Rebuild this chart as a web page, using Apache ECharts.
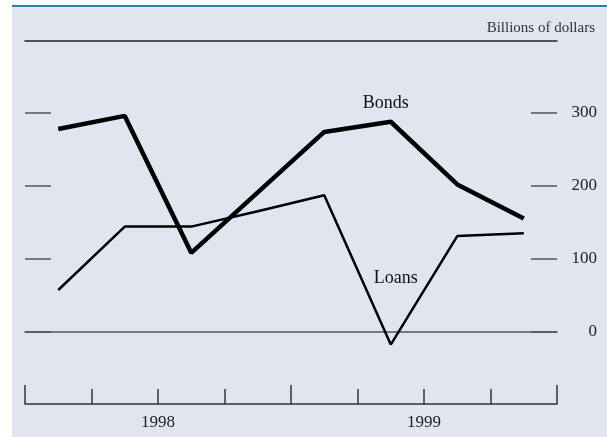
<!DOCTYPE html>
<html>
<head>
<meta charset="utf-8">
<script src="https://cdn.jsdelivr.net/npm/echarts@6/dist/echarts.min.js"></script>
<style>
html, body { margin: 0; padding: 0; background: #fff; }
#chart { width: 607px; height: 437px; }
</style>
</head>
<body>
<div id="chart"></div>
<script>
// quarters, 1998 Q1 .. 1999 Q4
var quarters = ['1998 Q1', '1998 Q2', '1998 Q3', '1998 Q4', '1999 Q1', '1999 Q2', '1999 Q3', '1999 Q4'];
var years = ['1998', '1999'];
var bonds = [278, 296, 108, 191, 274, 288, 202, 155];
var loans = [57, 144, 144, 165, 187, -18, 131, 135];
var yTicks = [0, 100, 200, 300];

var serif = '"Liberation Serif", "DejaVu Serif", serif';
var ink = '#222';

var chart = echarts.init(document.getElementById('chart'));

var option = {
  animation: false,
  backgroundColor: '#fff',
  graphic: [
    { type: 'rect', shape: { x: 12, y: 5, width: 595, height: 432 }, style: { fill: '#e1e5f0' }, z: -10 },
    { type: 'rect', shape: { x: 12, y: 5, width: 595, height: 2 }, style: { fill: '#2f7cba' }, z: -9 },
    { type: 'text', right: 12, top: 21, style: { text: 'Billions of dollars', font: '15px ' + serif, fill: '#333' } }
  ],
  grid: [
    { left: 25, right: 50, top: 113, bottom: 105.5 },
    { left: 25, right: 50, top: 41, bottom: 33 }
  ],
  xAxis: [
    {
      gridIndex: 0, type: 'category', data: quarters, boundaryGap: true,
      axisLine: { show: true, lineStyle: { color: '#555', width: 1.5 } },
      axisTick: { show: false }, axisLabel: { show: false }, splitLine: { show: false }
    },
    {
      gridIndex: 1, type: 'category', data: quarters, boundaryGap: true, position: 'bottom',
      axisLine: { show: true, lineStyle: { color: '#333', width: 1.5 } },
      axisTick: { show: true, inside: true, length: 15, interval: 0, lineStyle: { color: '#333', width: 1.5 } },
      axisLabel: { show: false }
    },
    {
      gridIndex: 1, type: 'category', data: years, boundaryGap: true, position: 'bottom',
      axisLine: { show: false },
      axisTick: { show: true, inside: true, length: 19, interval: 0, lineStyle: { color: '#333', width: 1.5 } },
      axisLabel: { show: true, margin: 10, color: ink, fontFamily: serif, fontSize: 17 }
    },
    {
      gridIndex: 1, type: 'category', data: quarters, position: 'top',
      axisLine: { show: true, lineStyle: { color: '#222', width: 1.5 } },
      axisTick: { show: false }, axisLabel: { show: false }
    }
  ],
  yAxis: [
    {
      gridIndex: 0, type: 'value', min: yTicks[0], max: yTicks[yTicks.length - 1], interval: 100, position: 'left',
      axisLine: { show: false },
      axisTick: { show: true, inside: true, length: 26, lineStyle: { color: '#555', width: 1.5 } },
      axisLabel: { show: false }, splitLine: { show: false }
    },
    {
      gridIndex: 0, type: 'value', min: yTicks[0], max: yTicks[yTicks.length - 1], interval: 100, position: 'right',
      axisLine: { show: false },
      axisTick: { show: true, inside: true, length: 26, lineStyle: { color: '#555', width: 1.5 } },
      axisLabel: { show: true, align: 'right', margin: 40, color: ink, fontFamily: serif, fontSize: 17 },
      splitLine: { show: false }
    },
    { gridIndex: 1, type: 'value', show: false }
  ],
  series: [
    {
      name: 'Bonds', type: 'line', xAxisIndex: 0, yAxisIndex: 0, clip: false,
      symbol: 'none', lineStyle: { color: '#000', width: 4.5 },
      data: bonds
    },
    {
      name: 'Loans', type: 'line', xAxisIndex: 0, yAxisIndex: 0, clip: false,
      symbol: 'none', lineStyle: { color: '#000', width: 2.5 },
      data: loans
    }
  ]
};

chart.setOption(option);

// series names written beside the lines, placed through the axes
var tags = [
  { text: 'Bonds', at: [5, 313], dx: -5 },
  { text: 'Loans', at: [5, 73], dx: 5 }
];
var tagGraphics = option.graphic.slice();
tags.forEach(function (t) {
  var p = chart.convertToPixel({ gridIndex: 0 }, t.at);
  tagGraphics.push({
    type: 'text', x: p[0] + t.dx, y: p[1], z: 10,
    style: { text: t.text, font: '18px ' + serif, fill: '#111', align: 'center', verticalAlign: 'middle' }
  });
});
chart.setOption({ graphic: tagGraphics });
</script>
</body>
</html>
